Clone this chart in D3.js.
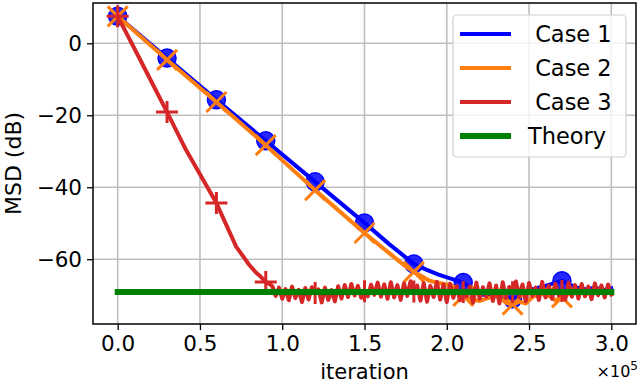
<!DOCTYPE html>
<html>
<head>
<meta charset="utf-8">
<script src="https://cdn.jsdelivr.net/npm/d3@7"></script>
<style>
  body { margin: 0; background: #fff; }
  svg { font-family: "DejaVu Sans", sans-serif; }
  .legend-label { white-space: pre; }
</style>
</head>
<body>
<svg id="msd-plot" width="640" height="384"></svg>
<script>
// series: [iteration, MSD in dB]
const case1 = [
    [0, 7.5], [30000, -4.1], [60000, -15.7], [90000, -27.1], [120000, -38.5],
    [150000, -49.9], [165000, -55.8], [180000, -61.3], [187500, -62.9], [195000, -64.3],
    [202500, -65.4], [210000, -66.5], [215000, -68.0], [220000, -69.6], [225000, -70.2],
    [230000, -69.4], [235000, -70.6], [240000, -71.0], [245000, -70.1], [250000, -68.6],
    [255000, -68.0], [260000, -67.4], [265000, -66.7], [270000, -66.0], [275000, -67.1],
    [280000, -68.0], [285000, -68.4], [290000, -67.9], [295000, -68.6], [300000, -68.1]
];

const case2 = [
    [0, 7.5], [30000, -4.6], [60000, -16.3], [90000, -28.3], [120000, -40.8],
    [150000, -52.7], [165000, -58.3], [175000, -62.0], [180000, -63.5], [189500, -66.0],
    [197500, -66.8], [203000, -67.3], [210000, -70.2], [215000, -71.2], [220000, -71.6],
    [225000, -70.8], [230000, -70.2], [233000, -71.0], [236500, -72.2], [240000, -72.6],
    [244000, -71.8], [248000, -72.3], [252500, -70.4], [257500, -69.6], [262500, -70.3],
    [266000, -71.4], [270000, -70.6], [275000, -69.5], [280000, -69.1], [285000, -69.6],
    [290000, -69.0], [295000, -69.3], [300000, -69.0]
];

const case3 = [
    [0, 7.5], [10000, -1.3], [20000, -10.2], [30000, -19.1], [41500, -29.6],
    [50000, -36.4], [60000, -44.4], [72000, -56.5], [80000, -61.6], [84000, -63.7],
    [87000, -64.9], [90000, -66.3], [92000, -66.8],
    [94000, -67.5], [96000, -70.2], [98000, -67.9], [100000, -71.0], [102000, -68.3],
    [104000, -71.4], [106000, -67.6], [108000, -70.8], [110000, -68.5], [112000, -71.9],
    [114000, -68.0], [116000, -71.2], [118000, -67.8], [120000, -69.4], [122000, -68.4],
    [124000, -72.0], [126000, -67.9], [128000, -71.3], [130000, -68.6], [132000, -71.7],
    [134000, -67.5], [136000, -70.9], [138000, -67.2], [140000, -70.5], [142000, -66.9],
    [144000, -70.1], [146000, -67.4], [148000, -70.7], [150000, -68.9], [152000, -70.3],
    [154000, -67.1], [156000, -69.9], [158000, -66.5], [160000, -70.4], [162000, -67.0],
    [164000, -71.0], [166000, -66.4], [168000, -70.6], [170000, -67.2], [172000, -71.3],
    [174000, -66.7], [176000, -70.2], [178000, -66.1], [180000, -69.0], [182000, -67.3],
    [184000, -71.5], [186000, -66.6], [188000, -71.8], [190000, -67.4], [192000, -70.5],
    [194000, -66.3], [196000, -71.2], [198000, -67.0], [200000, -71.9], [202000, -66.8],
    [204000, -70.7], [206000, -67.5], [208000, -71.4], [210000, -69.1], [212000, -70.3],
    [214000, -67.6], [216000, -72.1], [218000, -66.5], [220000, -71.0], [222000, -67.8],
    [224000, -70.4], [226000, -66.7], [228000, -71.6], [230000, -67.3], [232000, -72.3],
    [234000, -66.4], [236000, -70.8], [238000, -67.7], [240000, -69.2], [242000, -66.2],
    [244000, -70.5], [246000, -67.0], [248000, -71.7], [250000, -66.6], [252000, -70.2],
    [254000, -67.9], [256000, -71.3], [258000, -66.3], [260000, -70.6], [262000, -67.4],
    [264000, -71.0], [266000, -66.8], [268000, -70.1], [270000, -68.8], [272000, -71.2],
    [274000, -66.5], [276000, -70.4], [278000, -67.2], [280000, -70.9], [282000, -66.9],
    [284000, -70.3], [286000, -67.6], [288000, -71.1], [290000, -66.7], [292000, -70.0],
    [294000, -67.3], [296000, -70.6], [298000, -67.0], [300000, -69.8]
];

const theory = [[0, -69.1], [300000, -69.1]];

// every 30000 iterations a marker is drawn
const marker_iters = [0, 30000, 60000, 90000, 120000, 150000, 180000, 210000, 240000, 270000];

const legend_labels = [" Case 1", " Case 2", " Case 3", "Theory"];
const x_ticks = [0, 50000, 100000, 150000, 200000, 250000, 300000];
const y_ticks = [0, -20, -40, -60];

const svg = d3.select("#msd-plot");
const plot_left = 93, plot_right = 636, plot_top = 3, plot_bottom = 324;
const tick_font = 21.5;

const x = d3.scaleLinear().domain([-15000, 315000]).range([plot_left, plot_right]);
const y = d3.scaleLinear().domain([-78, 11.2]).range([plot_bottom, plot_top]);

// grid
svg.append("g").selectAll("line")
    .data(x_ticks).enter().append("line")
    .attr("x1", d => x(d)).attr("x2", d => x(d))
    .attr("y1", plot_top).attr("y2", plot_bottom)
    .style("stroke", "#bfbfbf").style("stroke-width", 1.6);
svg.append("g").selectAll("line")
    .data(y_ticks).enter().append("line")
    .attr("x1", plot_left).attr("x2", plot_right)
    .attr("y1", d => y(d)).attr("y2", d => y(d))
    .style("stroke", "#bfbfbf").style("stroke-width", 1.6);

const clip = svg.append("defs").append("clipPath").attr("id", "plot-clip");
clip.append("rect").attr("x", plot_left).attr("y", plot_top)
    .attr("width", plot_right - plot_left).attr("height", plot_bottom - plot_top);

const line = d3.line().x(d => x(d[0])).y(d => y(d[1]));
const series = [
    {data: case1, color: "#0000ff", width: 4, marker: "o"},
    {data: case2, color: "#ff7f0e", width: 4, marker: "x"},
    {data: case3, color: "#d62728", width: 4, marker: "+"},
    {data: theory, color: "#008000", width: 6, marker: null}
];

const plot_g = svg.append("g").attr("clip-path", "url(#plot-clip)");

function value_at(data, it) {
    return data.find(d => d[0] === it);
}

series.forEach(s => {
    const g = plot_g.append("g");
    g.append("path")
        .datum(s.data)
        .attr("d", line)
        .style("fill", "none")
        .style("stroke", s.color)
        .style("stroke-width", s.width)
        .style("stroke-linejoin", "round")
        .style("stroke-linecap", "square");
    if (!s.marker) return;
    const pts = marker_iters.map(it => value_at(s.data, it)).filter(d => d);
    if (s.marker === "o") {
        g.selectAll("circle").data(pts).enter().append("circle")
            .attr("cx", d => x(d[0])).attr("cy", d => y(d[1]))
            .attr("r", 9)
            .style("fill", s.color).style("fill-opacity", 0.85)
            .style("stroke", s.color).style("stroke-width", 1.5);
    } else {
        const r = s.marker === "x" ? 10 : 11;
        g.selectAll("path.mk").data(pts).enter().append("path")
            .attr("class", "mk")
            .attr("d", d => {
                const cx = x(d[0]), cy = y(d[1]);
                if (s.marker === "x")
                    return `M${cx - r},${cy - r}L${cx + r},${cy + r}M${cx - r},${cy + r}L${cx + r},${cy - r}`;
                return `M${cx - r},${cy}L${cx + r},${cy}M${cx},${cy - r}L${cx},${cy + r}`;
            })
            .style("stroke", s.color).style("stroke-width", 3).style("fill", "none");
    }
});

// axes
const x_axis = d3.axisBottom(x).tickValues(x_ticks)
    .tickFormat(d => (d / 1e5).toFixed(1)).tickSize(6).tickPadding(6);
const y_axis = d3.axisLeft(y).tickValues(y_ticks)
    .tickFormat(d => d3.format("")(d).replace("-", "\u2212")).tickSize(6).tickPadding(5);

const xg = svg.append("g").attr("transform", `translate(0,${plot_bottom})`).call(x_axis);
const yg = svg.append("g").attr("transform", `translate(${plot_left},0)`).call(y_axis);
[xg, yg].forEach(g => {
    g.select(".domain").remove();
    g.selectAll("text").style("font-size", tick_font + "px").style("font-family", "DejaVu Sans").attr("fill", "#000");
    g.selectAll("line").style("stroke", "#000").style("stroke-width", 1.3);
});

svg.append("rect")
    .attr("x", plot_left).attr("y", plot_top)
    .attr("width", plot_right - plot_left).attr("height", plot_bottom - plot_top)
    .style("fill", "none").style("stroke", "#000").style("stroke-width", 1.5);

// labels
svg.append("text")
    .attr("x", (plot_left + plot_right) / 2).attr("y", 379)
    .attr("text-anchor", "middle")
    .style("font-size", "21px")
    .text("iteration");

svg.append("text")
    .attr("transform", `translate(21,${(plot_top + plot_bottom) / 2}) rotate(-90)`)
    .attr("text-anchor", "middle")
    .style("font-size", "22px")
    .text("MSD (dB)");

const offset_text = svg.append("text")
    .attr("x", 638).attr("y", 377)
    .attr("text-anchor", "end")
    .style("font-size", "16px");
offset_text.append("tspan").text("\u00d710");
offset_text.append("tspan").attr("dy", -7).style("font-size", "12px").text("5");

// legend
const legend = svg.append("g");
legend.append("rect")
    .attr("x", 453).attr("y", 15).attr("width", 173).attr("height", 142)
    .attr("rx", 4)
    .style("fill", "#fff").style("fill-opacity", 0.8)
    .style("stroke", "#d0d0d0").style("stroke-width", 1.2);
const row_y = d3.scalePoint().domain(legend_labels).range([34, 136]);
series.forEach((s, i) => {
    const yy = row_y(legend_labels[i]);
    legend.append("line")
        .attr("x1", 460).attr("x2", 511).attr("y1", yy).attr("y2", yy)
        .style("stroke", s.color).style("stroke-width", s.width);
    legend.append("text")
        .attr("class", "legend-label")
        .attr("x", 528).attr("y", yy)
        .attr("dy", "0.36em")
        .style("font-size", "22.5px")
        .text(legend_labels[i]);
});
</script>
</body>
</html>
